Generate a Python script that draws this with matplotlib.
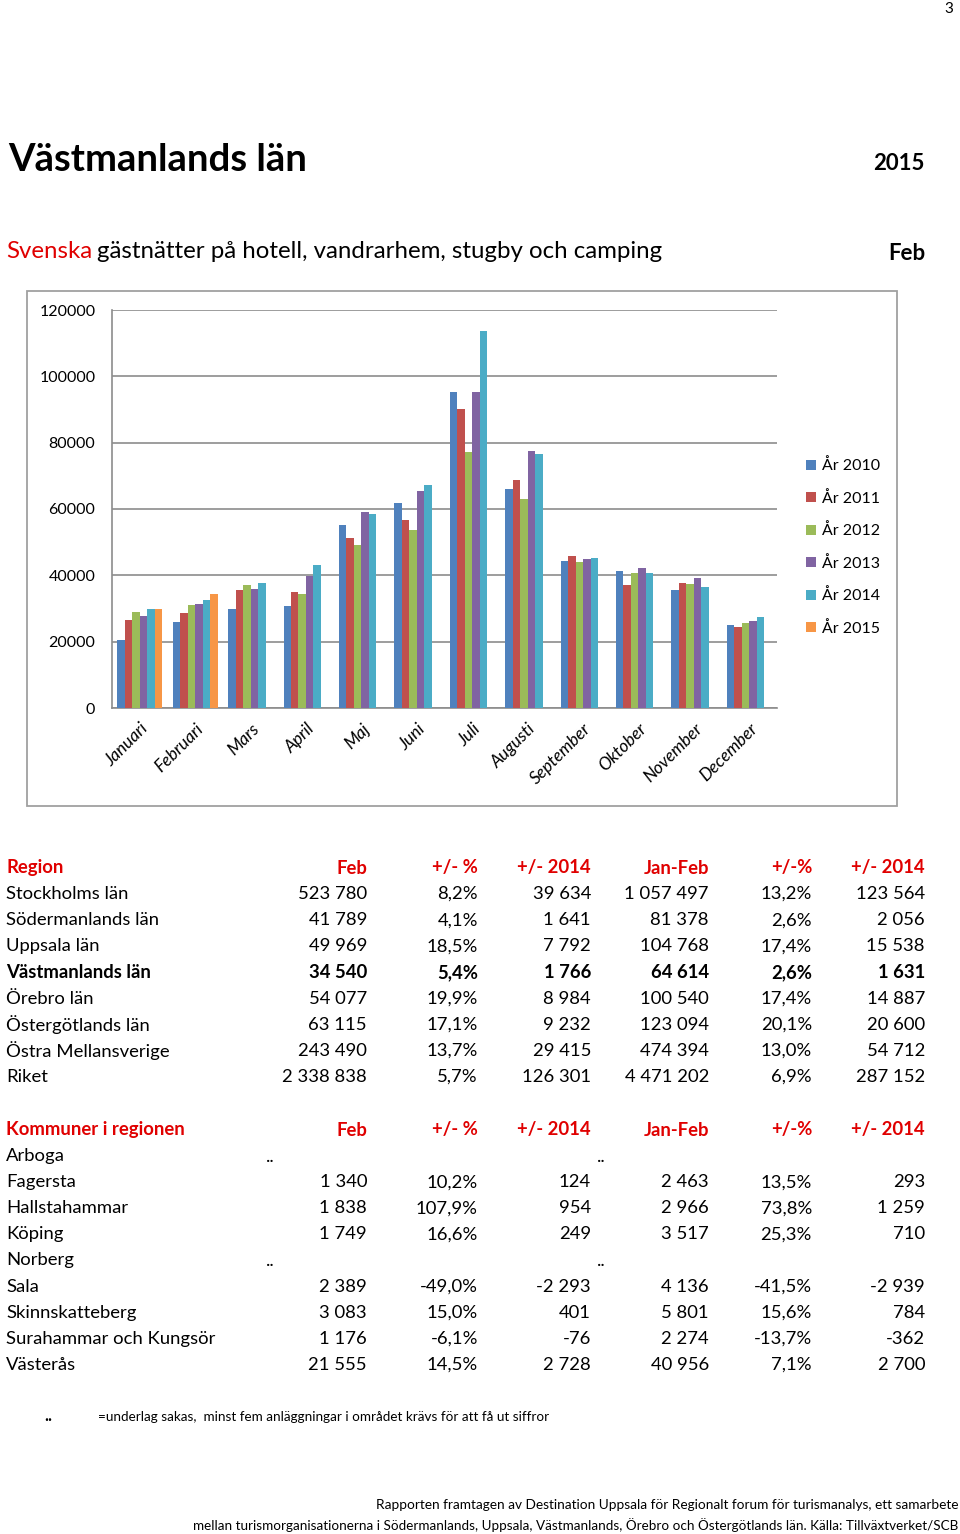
import matplotlib
matplotlib.use('Agg')
import matplotlib.pyplot as plt
import matplotlib.patches as mpatches
import numpy as np

plt.rcParams['font.family'] = ['Lato', 'DejaVu Sans']

months = ['Januari', 'Februari', 'Mars', 'April', 'Maj', 'Juni', 'Juli',
          'Augusti', 'September', 'Oktober', 'November', 'December']
years = ['År 2010', 'År 2011', 'År 2012', 'År 2013', 'År 2014', 'År 2015']
colors = ['#4F81BD', '#C0504D', '#9BBB59', '#8064A2', '#4BACC6', '#F79646']

y2010 = [20450, 25800, 29700, 30900, 55200, 61700, 95400, 66100, 44400, 41400, 35700, 25000]
y2011 = [26500, 28700, 35500, 34900, 51200, 56700, 90300, 68700, 45700, 37200, 37800, 24300]
y2012 = [28900, 31200, 37000, 34400, 49100, 53700, 77100, 63100, 44000, 40600, 37300, 25600]
y2013 = [27800, 31300, 35900, 39900, 59100, 65300, 95200, 77600, 45000, 42100, 39100, 26100]
y2014 = [30000, 32500, 37700, 43000, 58400, 67300, 113700, 76700, 45200, 40800, 36400, 27300]
y2015 = [29900, 34400] + [np.nan] * 10
series = [y2010, y2011, y2012, y2013, y2014, y2015]

table_cols = ['Feb', '+/- %', '+/- 2014', 'Jan-Feb', '+/-%', '+/- 2014']
regions = ['Stockholms län', 'Södermanlands län', 'Uppsala län', 'Västmanlands län',
           'Örebro län', 'Östergötlands län', 'Östra Mellansverige', 'Riket']
region_vals = [
    ['523 780', '8,2%', '39 634', '1 057 497', '13,2%', '123 564'],
    ['41 789', '4,1%', '1 641', '81 378', '2,6%', '2 056'],
    ['49 969', '18,5%', '7 792', '104 768', '17,4%', '15 538'],
    ['34 540', '5,4%', '1 766', '64 614', '2,6%', '1 631'],
    ['54 077', '19,9%', '8 984', '100 540', '17,4%', '14 887'],
    ['63 115', '17,1%', '9 232', '123 094', '20,1%', '20 600'],
    ['243 490', '13,7%', '29 415', '474 394', '13,0%', '54 712'],
    ['2 338 838', '5,7%', '126 301', '4 471 202', '6,9%', '287 152'],
]
kommuner = ['Arboga', 'Fagersta', 'Hallstahammar', 'Köping', 'Norberg', 'Sala',
            'Skinnskatteberg', 'Surahammar och Kungsör', 'Västerås']
kommun_vals = [
    None,
    ['1 340', '10,2%', '124', '2 463', '13,5%', '293'],
    ['1 838', '107,9%', '954', '2 966', '73,8%', '1 259'],
    ['1 749', '16,6%', '249', '3 517', '25,3%', '710'],
    None,
    ['2 389', '-49,0%', '-2 293', '4 136', '-41,5%', '-2 939'],
    ['3 083', '15,0%', '401', '5 801', '15,6%', '784'],
    ['1 176', '-6,1%', '-76', '2 274', '-13,7%', '-362'],
    ['21 555', '14,5%', '2 728', '40 956', '7,1%', '2 700'],
]

W, H = 960, 1534
fig = plt.figure(figsize=(W / 100, H / 100), dpi=100)
red = '#E00000'
grid_c = '#8C8C8C'


def fx(x):
    return x / W


def fy(y):
    return 1 - y / H


# headings
fig.text(fx(944), fy(9), '3', fontsize=11, ha='left', va='center')
fig.text(fx(8), fy(160), 'Västmanlands län', fontsize=27.5, fontweight='bold', va='center')
fig.text(fx(925), fy(164), '2015', fontsize=16, fontweight='bold', ha='right', va='center')
t = fig.text(fx(6), fy(252), 'Svenska', fontsize=17.3, color=red, va='center')
fig.canvas.draw()
bb = t.get_window_extent()
fig.text(bb.x1 / W + 0.005, fy(252), 'gästnätter på hotell, vandrarhem, stugby och camping',
         fontsize=17.3, va='center')
fig.text(fx(925), fy(254), 'Feb', fontsize=16, fontweight='bold', ha='right', va='center')

# chart frame
fig.patches.append(mpatches.Rectangle((fx(27), fy(806)), fx(870), 515 / H,
                                      transform=fig.transFigure, fill=False,
                                      edgecolor='#A0A0A0', lw=1.3))

ax = fig.add_axes([fx(112), fy(708), fx(665), 398 / H])
x = np.arange(len(months))
bw = 0.135
for i, (vals, c, lab) in enumerate(zip(series, colors, years)):
    ax.bar(x - 2.5 * bw + i * bw, vals, bw, color=c, label=lab, zorder=3)
ax.set_xlim(-0.5, 11.5)
ax.set_ylim(0, 120000)
ax.set_yticks(np.arange(0, 120001, 20000))
ax.set_yticklabels([str(v) for v in range(0, 120001, 20000)], fontsize=11.5)
ax.yaxis.grid(True, color=grid_c, lw=1.2, zorder=0)
ax.set_xticks(x)
ax.set_xticklabels(months, rotation=45, ha='right', rotation_mode='anchor',
                   fontsize=12.5, fontstyle='italic')
ax.tick_params(axis='y', length=0, pad=12)
ax.tick_params(axis='x', length=0, pad=9)
for s in ['top', 'right']:
    ax.spines[s].set_visible(False)
for s in ['left', 'bottom']:
    ax.spines[s].set_color(grid_c)
    ax.spines[s].set_linewidth(1.2)
fig.legend(loc='center left', bbox_to_anchor=(fx(792), fy(547)), frameon=False,
           fontsize=11.5, handlelength=0.6, handleheight=0.6, handletextpad=0.4,
           labelspacing=1.1)

# tables
col_x = [367, 478, 591, 709, 812, 925]
fs = 13.3


def table(header, top, names, rows, bold_row=None):
    fig.text(fx(6), fy(top), header, fontsize=fs, color=red, fontweight='bold', va='center')
    for cx, h in zip(col_x, table_cols):
        fig.text(fx(cx), fy(top), h, fontsize=fs, color=red, fontweight='bold',
                 ha='right', va='center')
    for k, (name, row) in enumerate(zip(names, rows)):
        yy = top + 26.1 * (k + 1)
        w = 'bold' if k == bold_row else 'normal'
        fig.text(fx(6), fy(yy), name, fontsize=fs, fontweight=w, va='center')
        if row is None:
            fig.text(fx(266), fy(yy + 1), '..', fontsize=fs, va='center')
            fig.text(fx(597), fy(yy + 1), '..', fontsize=fs, va='center')
            continue
        for cx, v in zip(col_x, row):
            fig.text(fx(cx), fy(yy), v, fontsize=fs, fontweight=w, ha='right', va='center')


table('Region', 868, regions, region_vals, bold_row=3)
table('Kommuner i regionen', 1130, kommuner, kommun_vals)

# footnotes
fig.text(fx(44), fy(1416), '..', fontsize=12, fontweight='bold', va='center')
fig.text(fx(98), fy(1417), '=underlag sakas,  minst fem anläggningar i området krävs för att få ut siffror',
         fontsize=9.7, va='center')
fig.text(fx(958), fy(1505), 'Rapporten framtagen av Destination Uppsala för Regionalt forum för turismanalys, ett samarbete',
         fontsize=9.8, ha='right', va='center')
fig.text(fx(958), fy(1525), 'mellan turismorganisationerna i Södermanlands, Uppsala, Västmanlands, Örebro och Östergötlands län. Källa: Tillväxtverket/SCB',
         fontsize=9.7, ha='right', va='center')

fig.savefig('out.png', dpi=100)
